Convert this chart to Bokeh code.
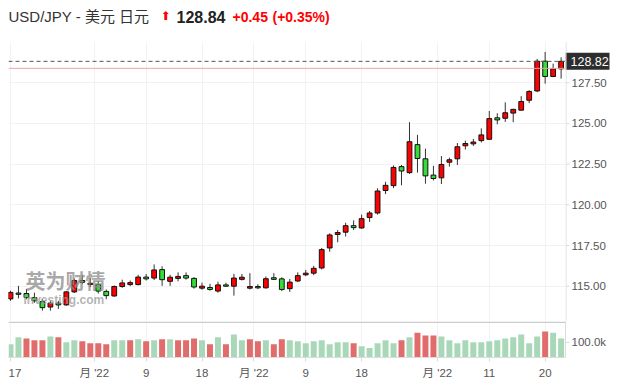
from bokeh.plotting import figure
from bokeh.models import FixedTicker, Span, Label, Range1d, ColumnDataSource, Spacer
from bokeh.layouts import column, row
from bokeh.embed import file_html
from bokeh.resources import INLINE
from bokeh.core.properties import value

# ---------------- data ----------------
opens = [114.22, 114.58, 114.55, 114.30, 114.05, 113.72, 113.96, 113.85, 114.65, 115.35,
         115.10, 115.10, 114.68, 114.40, 114.98, 115.10, 115.10, 115.56, 115.50, 116.02,
         115.30, 115.48, 115.65, 115.48, 114.88, 114.92, 114.70, 115.08, 115.00, 115.42,
         114.88, 114.98, 114.90, 115.52, 115.45, 114.85, 115.32, 115.70, 115.80, 116.12,
         117.35, 118.18, 118.32, 118.72, 118.58, 119.22, 119.50, 120.88, 121.18, 122.35,
         121.98, 123.70, 122.83, 121.83, 121.66, 122.62, 122.83, 123.63, 123.75, 123.95,
         124.03, 125.35, 125.32, 125.64, 125.82, 126.43, 127.00, 128.83, 127.89, 128.36]
highs = [114.72, 115.02, 114.82, 114.60, 114.20, 114.08, 114.10, 114.70, 115.48, 115.68,
         115.50, 115.32, 114.80, 115.05, 115.40, 115.35, 115.70, 115.75, 116.34, 116.22,
         115.70, 115.85, 115.85, 115.55, 115.22, 115.15, 115.28, 115.22, 115.76, 115.75,
         115.80, 115.12, 115.60, 115.80, 115.55, 115.45, 115.85, 116.00, 116.25, 117.35,
         118.25, 118.45, 118.90, 119.05, 119.40, 119.62, 121.02, 121.42, 122.42, 122.45,
         125.08, 124.30, 123.45, 122.40, 123.00, 122.90, 123.80, 123.95, 124.05, 124.70,
         125.77, 125.63, 126.30, 125.90, 126.68, 127.05, 128.97, 129.40, 128.68, 129.07]
lows = [114.10, 114.25, 114.20, 113.98, 113.50, 113.50, 113.60, 113.80, 114.58, 115.12,
        114.95, 114.55, 114.20, 114.35, 114.90, 115.00, 115.05, 115.35, 115.38, 115.02,
        115.02, 115.30, 115.40, 114.85, 114.78, 114.72, 114.60, 114.95, 114.42, 115.35,
        114.80, 114.82, 114.85, 115.40, 114.70, 114.65, 115.25, 115.62, 115.68, 116.03,
        117.12, 117.70, 118.05, 118.45, 118.53, 118.95, 119.40, 120.66, 121.03, 121.20,
        121.90, 121.98, 121.30, 121.50, 121.28, 122.35, 122.45, 123.40, 123.62, 123.83,
        124.00, 124.95, 125.10, 125.08, 125.80, 126.25, 126.93, 127.45, 127.85, 127.76]
closes = [114.62, 114.50, 114.30, 114.10, 113.68, 113.96, 113.85, 114.65, 115.35, 115.24,
          115.18, 114.70, 114.42, 114.98, 115.20, 115.22, 115.56, 115.45, 116.00, 115.40,
          115.55, 115.60, 115.50, 114.95, 115.00, 114.80, 115.08, 115.00, 115.50, 115.55,
          114.98, 114.90, 115.46, 115.42, 114.80, 115.25, 115.65, 115.80, 116.10, 117.25,
          118.15, 118.30, 118.72, 118.60, 119.15, 119.50, 120.85, 121.20, 122.30, 122.08,
          123.88, 122.85, 121.78, 121.62, 122.48, 122.77, 123.57, 123.77, 123.86, 124.30,
          125.30, 125.22, 125.66, 125.87, 126.35, 126.97, 128.83, 127.89, 128.36, 128.82]
volumes = [87, 132, 125, 113, 113, 138, 132, 100, 113, 106,
           93, 93, 87, 113, 113, 113, 119, 106, 113, 119,
           119, 113, 113, 125, 113, 87, 132, 87, 151, 113,
           119, 106, 113, 87, 119, 113, 106, 93, 106, 113,
           87, 100, 100, 93, 74, 62, 93, 113, 93, 113,
           132, 163, 144, 144, 138, 113, 93, 113, 100, 100,
           106, 113, 125, 132, 151, 93, 138, 170, 163, 125]  # thousands
vol_dir = ["g", "g", "r", "r", "r", "g", "r", "g", "g", "r",
           "r", "r", "r", "g", "g", "r", "g", "r", "g", "r",
           "g", "r", "r", "r", "g", "r", "g", "r", "g", "g",
           "r", "r", "g", "r", "r", "g", "g", "g", "g", "g",
           "g", "g", "g", "r", "g", "g", "g", "g", "g", "r",
           "g", "r", "r", "r", "g", "g", "g", "g", "g", "g",
           "g", "g", "g", "g", "g", "g", "g", "r", "g", "g"]

x_tick_pos = [0, 10.5, 17, 24, 30.5, 37, 44, 53.5, 60, 67]
x_tick_labels = ["17", "月 '22", "9", "18", "月 '22", "9", "18", "月 '22", "11", "20"]
price_ticks = [115.0, 117.5, 120.0, 122.5, 125.0, 127.5]
vol_ticks = [100]
vol_tick_labels = ["100.0k"]
last_price = 128.82
prev_close = 128.39

title_text = "USD/JPY - 美元 日元"
head_price = "128.84"
head_change = "+0.45"
head_pct = "(+0.35%)"

# ---------------- styling ----------------
FRAME_W = 557
RB = 56
W = FRAME_W + RB
FONT = "Liberation Sans, Noto Sans CJK SC"
UP = "#ff0000"
DOWN = "#33dd33"
VUP = "#e06c6c"
VDOWN = "#a8d8b8"
GRID = "#f2f2f2"
AX = "#dcdcdc"
LBL = "#555555"

xs = list(range(len(opens)))
cols = [UP if c >= o else DOWN for o, c in zip(opens, closes)]
src = ColumnDataSource(dict(
    x=xs, o=opens, h=highs, l=lows, c=closes,
    top=[max(o, c) for o, c in zip(opens, closes)],
    bot=[min(o, c) for o, c in zip(opens, closes)],
    col=cols,
))
vsrc = ColumnDataSource(dict(
    x=xs, v=[v * 1000 for v in volumes],
    col=[VUP if d == "r" else VDOWN for d in vol_dir],
))

xr = Range1d(-0.25, 69.55)
yr = Range1d(112.83, 130.04)

# ---------------- header ----------------
hdr = figure(width=W, height=33, x_range=Range1d(0, FRAME_W), y_range=Range1d(0, 33),
             toolbar_location=None, output_backend="svg",
             x_axis_location=None, y_axis_location=None,
             min_border_left=0, min_border_right=RB, min_border_top=0, min_border_bottom=0)
hdr.grid.visible = False
hdr.outline_line_color = None
hdr.text(x=[0], y=[25], text=[title_text], text_font=value(FONT), text_font_size=value("15px"),
         text_color="#333333", text_baseline="middle", text_align="left")
hdr.text(x=[152], y=[25.5], text=["⬆"], text_font=value("DejaVu Sans"), text_font_size=value("12px"),
         text_color=UP, text_baseline="middle", text_align="left")
hdr.text(x=[168], y=[25], text=[head_price], text_font=value(FONT), text_font_size=value("16px"),
         text_font_style="bold", text_color="#222222", text_baseline="middle", text_align="left")
hdr.text(x=[224], y=[25], text=[head_change], text_font=value(FONT), text_font_size=value("14px"),
         text_font_style="bold", text_color=UP, text_baseline="middle", text_align="left")
hdr.text(x=[264], y=[25], text=[head_pct], text_font=value(FONT), text_font_size=value("14px"),
         text_font_style="bold", text_color=UP, text_baseline="middle", text_align="left")

# ---------------- price pane ----------------
p = figure(width=FRAME_W, height=280, x_range=xr, y_range=yr,
           x_axis_location=None, y_axis_location=None,
           toolbar_location=None, output_backend="svg",
           min_border_left=0, min_border_right=0, min_border_top=0, min_border_bottom=0)
p.outline_line_color = None
p.xgrid.ticker = FixedTicker(ticks=x_tick_pos)
p.ygrid.ticker = FixedTicker(ticks=price_ticks)
p.xgrid.grid_line_color = GRID
p.ygrid.grid_line_color = GRID

# watermark
p.add_layout(Label(x=17, y=40, x_units="screen", y_units="screen", text="英为财情",
                   text_font=FONT, text_font_size="20px", text_font_style="bold",
                   text_color="#8c8c8c", text_alpha=0.75, text_baseline="middle"))
p.add_layout(Label(x=15, y=22, x_units="screen", y_units="screen", text="Investing.com",
                   text_font=FONT, text_font_size="12px", text_font_style="bold",
                   text_color="#9a9a9a", text_alpha=0.75, text_baseline="middle"))

p.add_layout(Span(location=prev_close, dimension="width", line_color="#f5a3a3", line_width=1))
p.add_layout(Span(location=last_price, dimension="width", line_color="#555555",
                  line_width=1, line_dash="4 3"))

p.segment(x0="x", y0="h", x1="x", y1="l", source=src, line_color="#333333", line_width=1)
p.vbar(x="x", width=0.6, top="top", bottom="bot", source=src,
       fill_color="col", line_color="#111111", line_width=1)

# ---------------- price scale (right side) ----------------
side = figure(width=RB, height=280, x_range=Range1d(0, RB), y_range=yr,
              x_axis_location=None, y_axis_location=None,
              toolbar_location=None, output_backend="svg", min_border=0)
side.grid.visible = False
side.outline_line_color = None
side.add_layout(Span(location=0.5, dimension="height", line_color=AX, line_width=1))
side.segment(x0=[0] * len(price_ticks), y0=price_ticks, x1=[4] * len(price_ticks), y1=price_ticks,
             line_color=AX, line_width=1)
side.text(x=[6] * len(price_ticks), y=price_ticks, text=[f"{t:.2f}" for t in price_ticks],
          text_font=value(FONT), text_font_size=value("11.5px"), text_color=LBL,
          text_baseline="middle", text_align="left")
side.rect(x=[22], y=[last_price], width=44, height=17, height_units="screen",
          fill_color="#2d2d2d", line_color=None)
side.text(x=[5], y=[last_price], text=[f"{last_price:.2f}"], text_font=value(FONT),
          text_font_size=value("12.5px"), text_color="white",
          text_baseline="middle", text_align="left")

# ---------------- volume pane ----------------
vmax = 236000
v = figure(width=W, height=60, x_range=xr, y_range=Range1d(0, vmax),
           y_axis_location="right", toolbar_location=None, output_backend="svg",
           min_border_left=0, min_border_right=RB, min_border_top=0, min_border_bottom=23)
v.outline_line_color = None
v.vbar(x="x", width=0.75, top="v", bottom=0, source=vsrc, fill_color="col", line_color=None)
v.add_layout(Span(location=vmax * (1 - 0.8 / 37), dimension="width",
                  line_color="#cccccc", line_width=1.5))
v.xaxis.ticker = FixedTicker(ticks=x_tick_pos)
v.xaxis.major_label_overrides = {t: s for t, s in zip(x_tick_pos, x_tick_labels)}
v.xgrid.grid_line_color = GRID
v.ygrid.grid_line_color = None
v.yaxis.ticker = FixedTicker(ticks=[t * 1000 for t in vol_ticks])
v.yaxis.major_label_overrides = {t * 1000: s for t, s in zip(vol_ticks, vol_tick_labels)}
for ax in (v.xaxis, v.yaxis):
    ax.axis_line_color = AX
    ax.major_tick_line_color = AX
    ax.major_tick_out = 4
    ax.major_tick_in = 0
    ax.minor_tick_line_color = None
    ax.major_label_text_font = FONT
    ax.major_label_text_font_size = "11.5px"
    ax.major_label_text_color = LBL
v.xaxis.major_label_standoff = 5
v.yaxis.major_label_standoff = 2

layout = row(Spacer(width=8),
             column(Spacer(height=8), hdr, row(p, side, spacing=0), v, spacing=0),
             spacing=0)
open("out.html", "w").write(file_html(layout, INLINE))
